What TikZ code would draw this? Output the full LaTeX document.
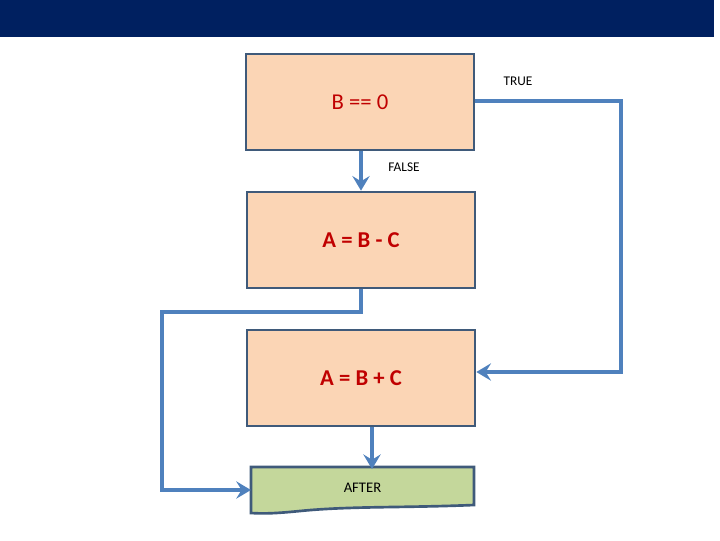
\documentclass[tikz,border=0pt]{standalone}
\usepackage{fontspec}
\setmainfont{Carlito}
\usetikzlibrary{arrows.meta}
\definecolor{bar}{HTML}{002060}
\definecolor{peach}{HTML}{FBD5B5}
\definecolor{edge}{HTML}{3F5A7A}
\definecolor{flow}{HTML}{4F81BD}
\definecolor{grn}{HTML}{C4D79B}
\definecolor{txt}{HTML}{C00000}
\begin{document}
\begin{tikzpicture}[x=0.75pt,y=-0.75pt,
  box/.style={draw=edge,line width=2pt,fill=peach,minimum width=171pt,minimum height=72pt,inner sep=0pt,font=\fontsize{17}{20}\selectfont\color{txt}},
  flowline/.style={draw=flow,line width=3.5pt,-{Stealth[length=11pt,width=13pt,inset=4pt]}},
  lbl/.style={font=\fontsize{10}{12}\selectfont}]
\useasboundingbox (0,0) rectangle (720,540);
\fill[bar] (0,0) rectangle (714,37);
\node[box] (b1) at (360,102) {\raisebox{0pt}{B == 0}};
\node[box] (b2) at (361,240) {\textbf{A = B - C}};
\node[box] (b3) at (361,378) {\textbf{A = B + C}};
\draw[edge,line width=2pt,fill=grn] (251,467) -- (474,467) -- (474,505)
  .. controls (400,508) and (350,506) .. (300,511) .. controls (280,513) and (265,514) .. (251,513) -- cycle;
\node[minimum width=167pt,minimum height=28pt,inner sep=0pt,font=\fontsize{11}{13}\selectfont] (af) at (362.5,488) {AFTER};
\node[lbl] (tl) at (518,81) {TRUE};
\node[lbl] (fl) at (404,167) {FALSE};
\draw[flowline] (b1.south -| 361,0) -- (b2.north -| 361,0);
\coordinate (t1) at (621,101);
\coordinate (t2) at (621,372);
\draw[flowline] (b1.east |- t1) -- (t1) -- (t2) -- (b3.east |- t2);
\coordinate (f1) at (361,312);
\coordinate (f2) at (162,312);
\coordinate (f3) at (162,490);
\draw[flowline] (b2.south -| f1) -- (f1) -- (f2) -- (f3) -- (af.west |- f3);
\draw[flowline] (b3.south -| 372,0) -- (af.north -| 372,0);
\end{tikzpicture}
\end{document}
